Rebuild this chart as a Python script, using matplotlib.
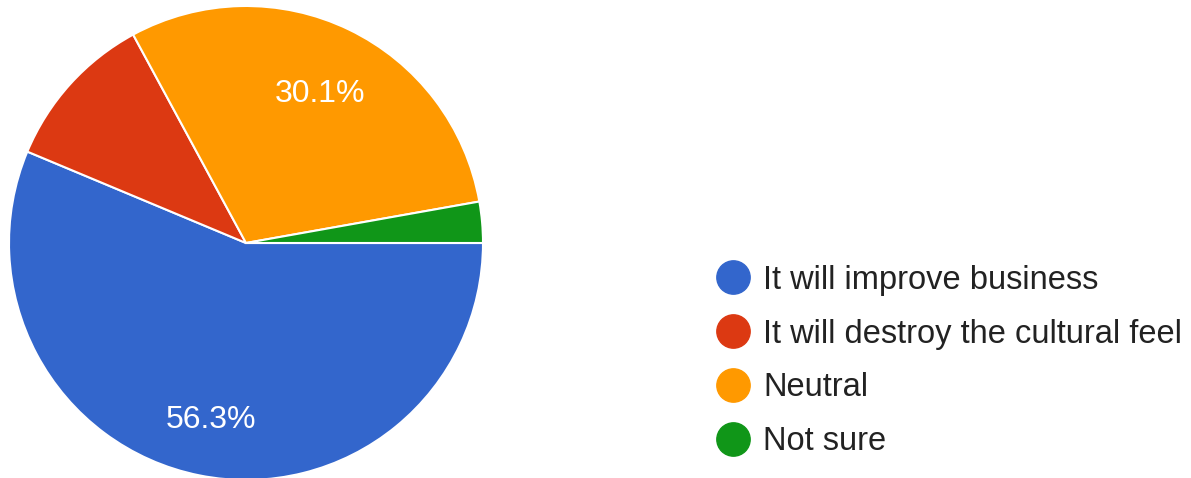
import matplotlib
matplotlib.use('Agg')
import matplotlib.pyplot as plt
from matplotlib.lines import Line2D

plt.rcParams['font.family'] = ['Liberation Sans', 'DejaVu Sans']

labels = ['It will improve business', 'It will destroy the cultural feel', 'Neutral', 'Not sure']
shares = [56.3, 10.8, 30.1, 2.8]
colors = ['#3366CC', '#DC3912', '#FF9900', '#109618']

W, H = 1191, 478
fig = plt.figure(figsize=(W / 100, H / 100), dpi=100)
ax = fig.add_axes([0, 0, 1, 1])
ax.set_xlim(0, W); ax.set_ylim(0, H)
ax.set_aspect('equal'); ax.axis('off')

wedges, _, autotexts = ax.pie(
    shares, colors=colors, startangle=0, counterclock=False,
    center=(246, H - 243), radius=237, pctdistance=0.73,
    autopct=lambda p: f'{p:.1f}%' if p > 15 else '',
    wedgeprops=dict(edgecolor='white', linewidth=1.5),
    textprops=dict(color='white', fontsize=23))
# labels sit a little lower in the original
for t in autotexts:
    x, y = t.get_position()
    t.set_position((x - 1, y - 7))
ax.set_xlim(0, W); ax.set_ylim(0, H)

handles = [Line2D([], [], marker='o', linestyle='none', markersize=24,
                  markerfacecolor=c, markeredgecolor=c) for c in colors]
fig.legend(handles, labels, loc='center left', bbox_to_anchor=(700.5 / W, 1 - 361 / H),
           frameon=False, fontsize=23.5, labelspacing=0.70, handletextpad=0.42,
           handlelength=1.0, borderpad=0, labelcolor='#222222')

fig.savefig('out.png', dpi=100)
